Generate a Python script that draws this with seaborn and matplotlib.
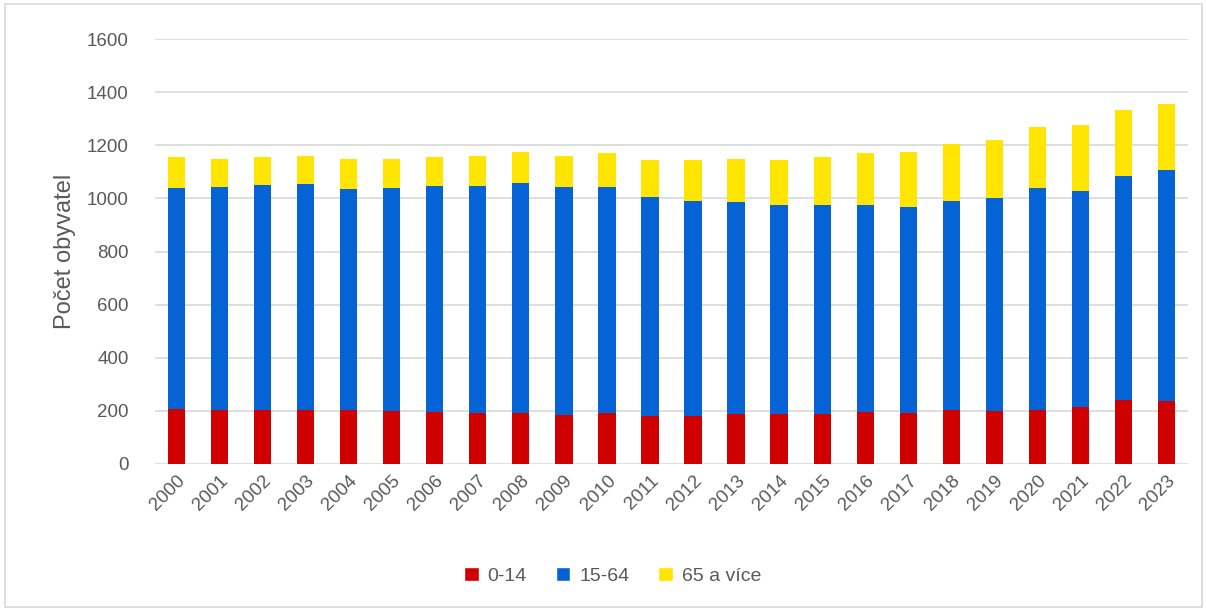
import pandas as pd
import seaborn as sns
import matplotlib.pyplot as plt
from matplotlib.patches import Rectangle, Patch

# data
years = list(range(2000, 2024))
deti = [208, 205, 204, 204, 202, 199, 196, 193, 193, 184, 193, 182,
        180, 190, 189, 189, 194, 193, 202, 199, 205, 213, 241, 237]
produktivni = [831, 837, 847, 850, 834, 841, 851, 854, 866, 858, 848, 823,
               811, 796, 787, 786, 781, 775, 787, 802, 835, 816, 843, 870]
senioři = [115, 105, 105, 106, 111, 107, 108, 113, 115, 119, 128, 139,
           153, 162, 168, 181, 197, 206, 216, 218, 228, 248, 250, 247]
labels = ["0-14", "15-64", "65 a více"]
colors = ["#D00000", "#0563D6", "#FFE500"]

df = pd.DataFrame({"rok": [str(y) for y in years],
                   "0-14": deti, "15-64": produktivni, "65 a více": senioři})
# cumulative tops for stacking
df["top_red"] = df["0-14"]
df["top_blue"] = df["top_red"] + df["15-64"]
df["top_yellow"] = df["top_blue"] + df["65 a více"]

sns.set_style("white")
plt.rcParams["font.family"] = ["Liberation Sans", "DejaVu Sans"]
txt = "#595959"

fig = plt.figure(figsize=(12.06, 6.10), dpi=100)
ax = fig.add_axes([155 / 1206, 1 - 464 / 610, 1033 / 1206, 425 / 610])

# draw tallest first so shorter segments sit on top
for col, c in zip(["top_yellow", "top_blue", "top_red"], colors[::-1]):
    sns.barplot(data=df, x="rok", y=col, color=c, width=0.4, ax=ax,
                saturation=1, edgecolor="none", zorder=3)

ax.set_ylim(0, 1600)
ax.set_xlim(-0.5, 23.5)
ax.set_yticks(range(0, 1601, 200))
ax.grid(axis="y", color="#d9d9d9", linewidth=1.2, zorder=0)
ax.set_axisbelow(True)
for s in ax.spines.values():
    s.set_visible(False)
ax.tick_params(axis="y", length=0, pad=19, labelsize=13.5, labelcolor=txt)
ax.tick_params(axis="x", length=0, pad=6, labelsize=13.5, labelcolor=txt)
plt.setp(ax.get_xticklabels(), rotation=45, ha="right", rotation_mode="anchor")
ax.set_xlabel("")
ax.set_ylabel("Počet obyvatel", fontsize=17, color=txt, labelpad=8)

handles = [Patch(facecolor=c, label=l) for c, l in zip(colors, labels)]
fig.legend(handles=handles, loc="center", bbox_to_anchor=(0.508, 1 - 576 / 610),
           ncol=3, frameon=False, fontsize=14, labelcolor=txt,
           handlelength=0.75, handleheight=0.75, handletextpad=0.45, columnspacing=1.5)

fig.add_artist(Rectangle((5 / 1206, 3 / 610), 1197 / 1206, 603 / 610,
                         transform=fig.transFigure, fill=False,
                         edgecolor="#d9d9d9", linewidth=1.2))

fig.savefig("out.png", dpi=100)
